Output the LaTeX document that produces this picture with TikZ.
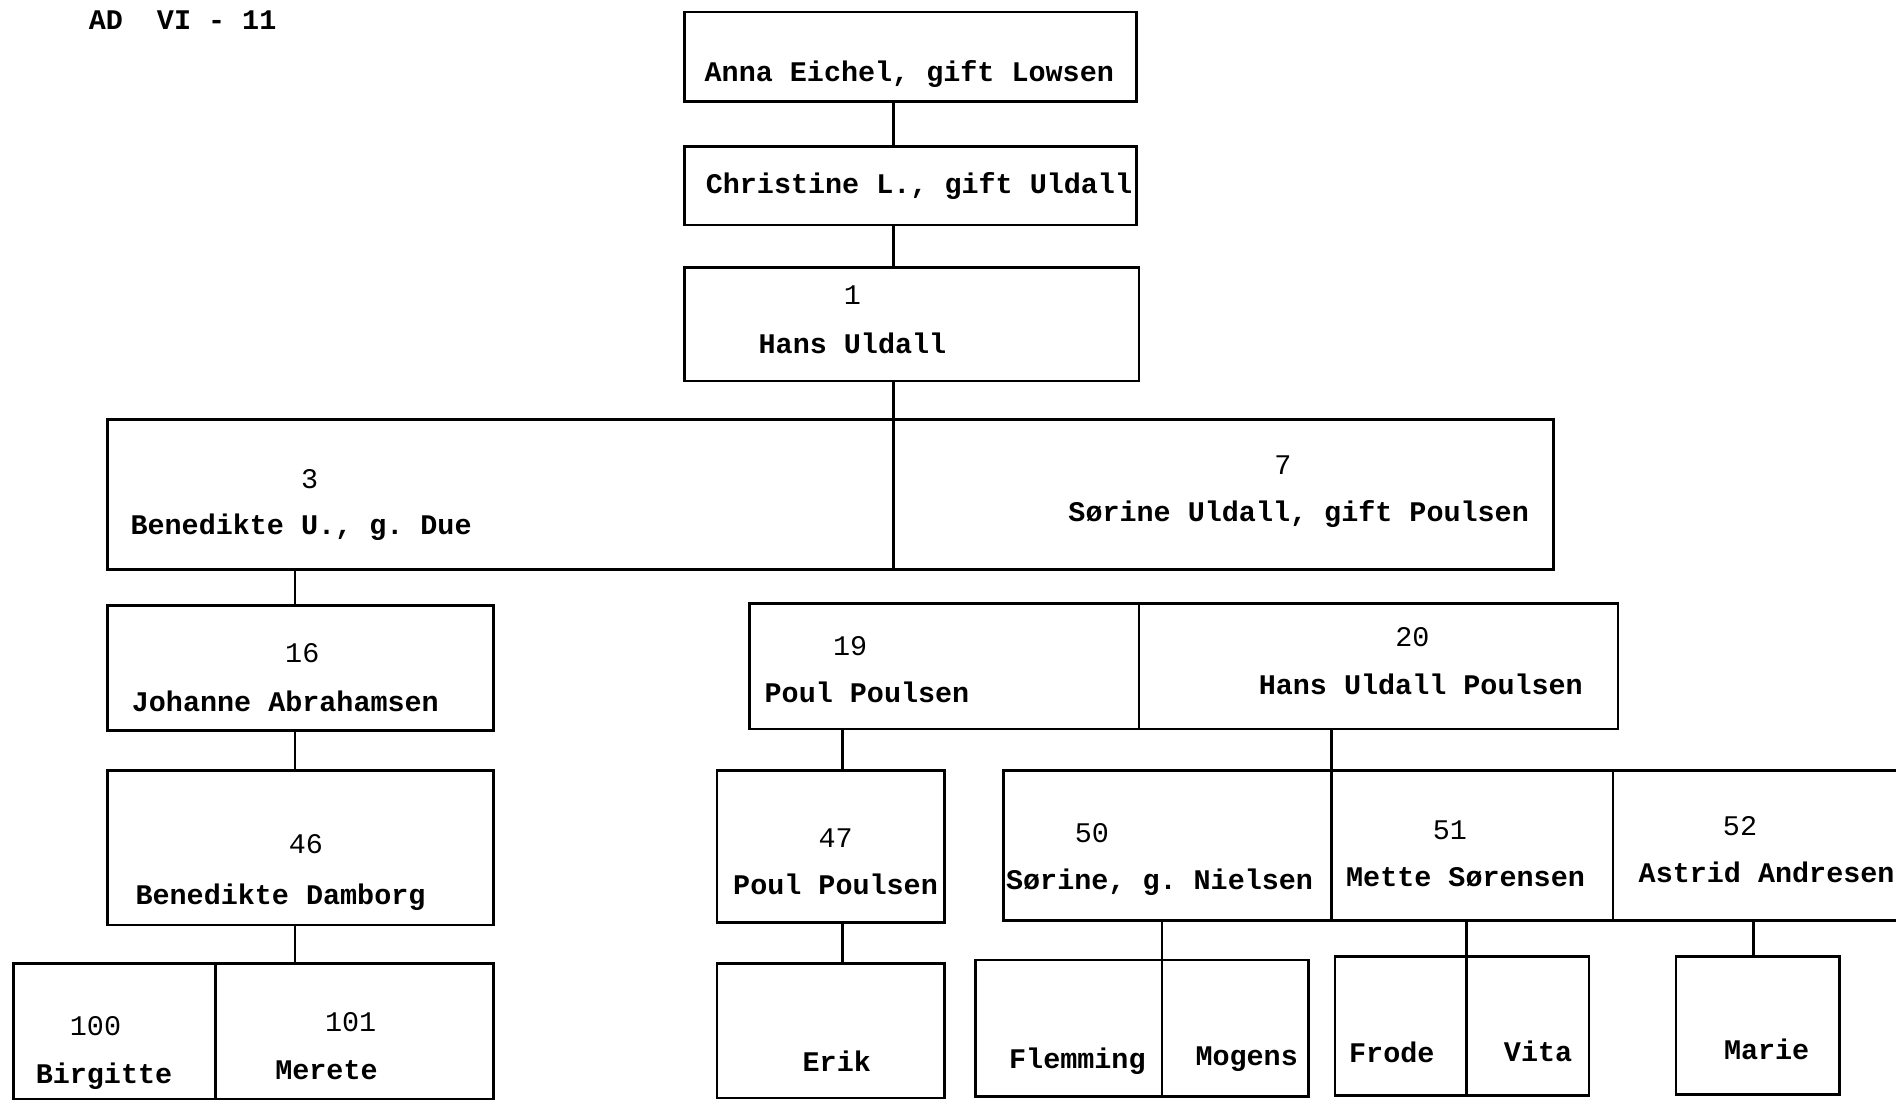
\documentclass[tikz,border=0pt]{standalone}
\usepackage{fontspec}
\newfontfamily\tw{Liberation Mono}
\usetikzlibrary{fit}
\frenchspacing
\begin{document}
\begin{tikzpicture}[x=1pt,y=-1pt,
  box/.style={draw, line width=2.2pt, inner sep=0pt, outer sep=0pt, rectangle},
  conn/.style={line width=2.2pt},
  nm/.style={anchor=base, inner sep=0pt, font=\tw\bfseries\fontsize{23.5}{28}\selectfont},
  nr/.style={anchor=base, inner sep=0pt, font=\tw\fontsize{23.5}{28}\selectfont}]
\useasboundingbox (0,0) rectangle (1568,911);
% boxes
\node[box, fit={(566,10) (940,84)}] (anna) {};
\node[box, fit={(566,121) (940,186)}] (christine) {};
\node[box, fit={(566,221) (942,315)}] (hans) {};
\node[box, fit={(89,347) (739,471)}] (b3) {};
\node[box, fit={(739,347) (1285,471)}] (b7) {};
\node[box, fit={(89,501) (408,604)}] (b16) {};
\node[box, fit={(89,637) (408,765)}] (b46) {};
\node[box, fit={(11,797) (178,909)}] (b100) {};
\node[box, fit={(178,797) (408,909)}] (b101) {};
\node[box, fit={(620,499) (942,603)}] (b19) {};
\node[box, fit={(942,499) (1338,603)}] (b20) {};
\node[box, fit={(593,637) (781,763)}] (b47) {};
\node[box, fit={(593,797) (781,908)}] (erik) {};
\node[box, fit={(830,637) (1101,761)}] (b50) {};
\node[box, fit={(1101,637) (1334,761)}] (b51) {};
\node[box, fit={(1334,637) (1590,761)}] (b52) {};
\node[box, fit={(807,794) (961,907)}] (flem) {};
\node[box, fit={(961,794) (1082,907)}] (mog) {};
\node[box, fit={(1104,791) (1213,906)}] (frode) {};
\node[box, fit={(1213,791) (1314,906)}] (vita) {};
\node[box, fit={(1386,791) (1521,905)}] (marie) {};
% connector x positions
\coordinate (xa) at (739,0);
\coordinate (xb) at (244,0);
\coordinate (xc) at (697,0);
\coordinate (xd) at (1450,0);
% connectors
\draw[conn] (anna.south -| xa) -- (christine.north -| xa);
\draw[conn] (christine.south -| xa) -- (hans.north -| xa);
\draw[conn] (hans.south -| xa) -- (b3.north -| xa);
\draw[conn] (b3.south -| xb) -- (b16.north -| xb);
\draw[conn] (b16.south -| xb) -- (b46.north -| xb);
\draw[conn] (b46.south -| xb) -- (b101.north -| xb);
\draw[conn] (b19.south -| xc) -- (b47.north -| xc);
\draw[conn] (b47.south -| xc) -- (erik.north -| xc);
\draw[conn] (b20.south -| b51.north west) -- (b51.north west);
\draw[conn] (b50.south -| flem.north east) -- (flem.north east);
\draw[conn] (b51.south -| frode.north east) -- (frode.north east);
\draw[conn] (b52.south -| xd) -- (marie.north -| xd);
% texts
\node[nm] (title) at (151,24) {AD\ \ VI - 11};
\node[nm] (tanna) at (752,67) {Anna Eichel, gift Lowsen};
\node[nm] (tchr) at (760,160) {Christine L., gift Uldall};
\node[nr] (n1) at (705,252) {1};
\node[nm] (thans) at (705,292) {Hans Uldall};
\node[nr] (n3) at (256,404) {3};
\node[nm] (tben) at (249,442) {Benedikte U., g. Due};
\node[nr] (n7) at (1061,392) {7};
\node[nm] (tsor) at (1074,431) {Sørine Uldall, gift Poulsen};
\node[nr] (n16) at (250,548) {16};
\node[nm] (tjoh) at (236,588) {Johanne Abrahamsen};
\node[nr] (n46) at (253,706) {46};
\node[nm] (tdam) at (232,748) {Benedikte Damborg};
\node[nr] (n100) at (79,856) {100};
\node[nm] (tbir) at (86,896) {Birgitte};
\node[nr] (n101) at (290,853) {101};
\node[nm] (tmer) at (270,893) {Merete};
\node[nr] (n19) at (703,542) {19};
\node[nm] (tpoul) at (717,581) {Poul Poulsen};
\node[nr] (n20) at (1168,535) {20};
\node[nm] (thup) at (1175,574) {Hans Uldall Poulsen};
\node[nr] (n47) at (691,701) {47};
\node[nm] (tpoul2) at (691,740) {Poul Poulsen};
\node[nm] (terik) at (692,886) {Erik};
\node[nr] (n50) at (903,697) {50};
\node[nm] (tsn) at (959,736) {Sørine, g. Nielsen};
\node[nr] (n51) at (1199,694) {51};
\node[nm] (tmet) at (1212,733) {Mette Sørensen};
\node[nr] (n52) at (1439,691) {52};
\node[nm] (tast) at (1461,730) {Astrid Andresen};
\node[nm] (tfle) at (891,884) {Flemming};
\node[nm] (tmog) at (1031,881) {Mogens};
\node[nm] (tfro) at (1151,879) {Frode};
\node[nm] (tvit) at (1272,878) {Vita};
\node[nm] (tmar) at (1461,876) {Marie};
\end{tikzpicture}
\end{document}
